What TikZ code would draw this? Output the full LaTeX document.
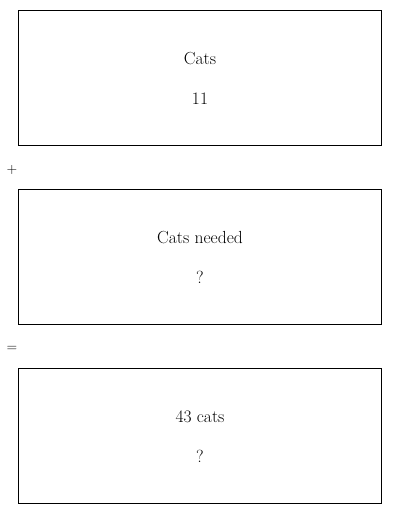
\documentclass[tikz,border=0pt]{standalone}
\begin{document}
\begin{tikzpicture}[x=1pt,y=-1pt,
  panel/.style={draw=black,line width=1pt,minimum width=363pt,minimum height=135pt,anchor=north west,inner sep=0pt},
  lbl/.style={font=\fontsize{17.5}{20}\selectfont,anchor=center,inner sep=0pt},
  opsym/.style={font=\fontsize{14}{16}\selectfont\sffamily,anchor=center,inner sep=0pt}]
\useasboundingbox (0,0) rectangle (400,514);
\node[panel] (b1) at (18,10) {};
\node[panel] (b2) at (18,189) {};
\node[panel] (b3) at (18,368) {};
\node[lbl] (t1) at (200,59) {Cats};
\node[lbl] (v1) at (200,99) {11};
\node[lbl] (t2) at (200,238) {Cats needed};
\node[lbl] (v2) at (200,277) {?};
\node[lbl] (t3) at (200,417) {43 cats};
\node[lbl] (v3) at (200,456) {?};
\node[opsym] (plus) at (12,170) {+};
\node[opsym] (eq) at (12,349) {=};
\end{tikzpicture}
\end{document}
